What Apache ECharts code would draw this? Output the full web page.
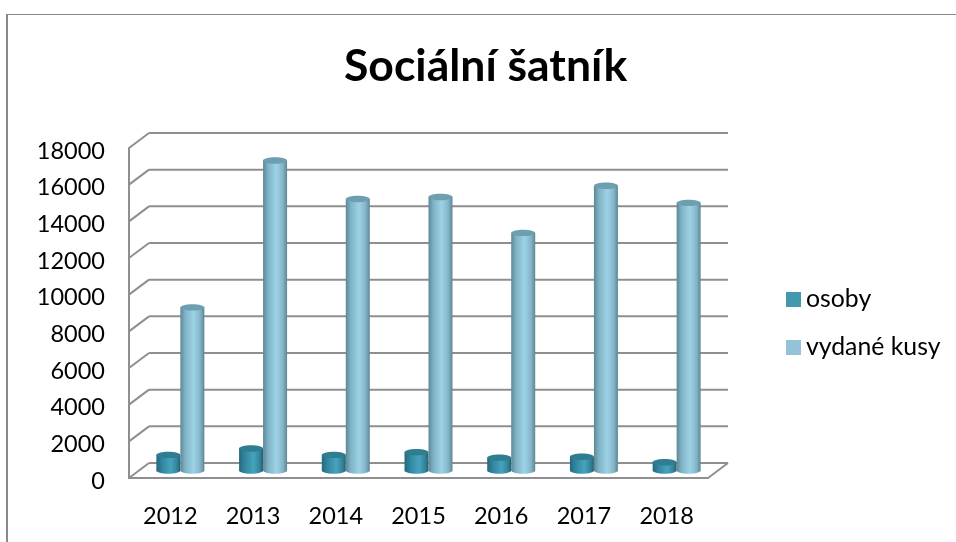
<!DOCTYPE html>
<html><head><meta charset="utf-8">
<style>html,body{margin:0;padding:0;background:#fff}#c{width:956px;height:542px}</style>
<script src="https://cdn.jsdelivr.net/npm/echarts@6/dist/echarts.min.js"></script>
</head><body><div id="c"></div>
<script>
const titleText = 'Sociální šatník';
const categories = ['2012','2013','2014','2015','2016','2017','2018'];
const osoby = [850,1200,850,1000,700,750,450];
const vydaneKusy = [8900,16910,14810,14920,12960,15530,14600];
const yTicks = [0,2000,4000,6000,8000,10000,12000,14000,16000,18000];
const seriesNames = ['osoby','vydané kusy'];

const FONT = 'Lato';
const DX = 20, DY = -15, BW = 24, RY = 3.2;
const WALL = '#8f8f8f';

function grad(stops){
  return {type:'linear',x:0,y:0,x2:1,y2:0,colorStops:stops.map(s=>({offset:s[0],color:s[1]}))};
}
const style1 = {
  body: grad([[0,'#24697c'],[0.25,'#3387a0'],[0.6,'#46a3bd'],[0.85,'#33859c'],[1,'#24606f']]),
  top:'#2f7d91'
};
const style2 = {
  body: grad([[0,'#5d8796'],[0.2,'#7fb2c5'],[0.55,'#9dd2e6'],[0.82,'#84b6c9'],[1,'#5f8694']]),
  top:'#6d9fb0'
};
function cylinder(off, st){
  return function(params, api){
    const p = api.coord([api.value(0), api.value(1)]);
    const b = api.coord([api.value(0), 0]);
    const cx = p[0] + DX/2 + off;
    const yt = p[1] + DY/2, yb = b[1] + DY/2;
    const rx = BW/2;
    return {type:'group',children:[
      {type:'ellipse',shape:{cx:cx,cy:yb,rx:rx,ry:RY},style:{fill:st.body}},
      {type:'rect',shape:{x:cx-rx,y:yt,width:BW,height:yb-yt},style:{fill:st.body}},
      {type:'ellipse',shape:{cx:cx,cy:yt,rx:rx,ry:RY},style:{fill:st.top}}
    ]};
  };
}
function wallLines(params, api){
  const cs = params.coordSys;
  const y = api.coord([0, api.value(1)])[1];
  const x0 = cs.x, x1 = cs.x + cs.width;
  const ls = {stroke:WALL,lineWidth:2};
  const kids = [
    {type:'line',shape:{x1:x0,y1:y,x2:x0+DX,y2:y+DY},style:ls},
    {type:'line',shape:{x1:x0+DX,y1:y+DY,x2:x1+DX,y2:y+DY},style:ls}
  ];
  if (api.value(1) === 0) kids.push({type:'line',shape:{x1:x1,y1:y,x2:x1+DX,y2:y+DY},style:ls});
  return {type:'group',children:kids};
}
const chart = echarts.init(document.getElementById('c'),null,{renderer:'canvas'});
chart.setOption({
  animation:false,
  backgroundColor:'#fff',
  title:{text:titleText,left:344,top:44,padding:0,textStyle:{fontFamily:FONT,fontSize:44.5,fontWeight:'bold',color:'#000'}},
  legend:{
    orient:'vertical',left:786,top:287,padding:0,itemWidth:15,itemHeight:15,itemGap:23,
    icon:'rect',
    textStyle:{fontFamily:FONT,fontSize:24.8,color:'#000'},
    data:[{name:seriesNames[0],itemStyle:{color:'#4198af'}},{name:seriesNames[1],itemStyle:{color:'#93c3d6'}}]
  },
  grid:{left:129,top:148,width:579,height:330},
  xAxis:{type:'category',data:categories,
    axisLine:{lineStyle:{color:WALL,width:2}},axisTick:{show:false},
    axisLabel:{fontFamily:FONT,fontSize:23.5,color:'#000',margin:26},splitLine:{show:false}},
  yAxis:{type:'value',min:0,max:18000,interval:2000,
    axisLine:{show:true,lineStyle:{color:WALL,width:2}},axisTick:{show:false},
    axisLabel:{fontFamily:FONT,fontSize:23.5,color:'#000',margin:24,verticalAlign:'top',lineHeight:6,formatter:v=>String(v)},splitLine:{show:false}},
  graphic:[
    {type:'line',shape:{x1:7,y1:14,x2:7,y2:542},style:{stroke:'#8a8a8a',lineWidth:2},silent:true},
    {type:'line',shape:{x1:6,y1:14.5,x2:956,y2:14.5},style:{stroke:'#8a8a8a',lineWidth:1},silent:true}
  ],
  series:[
    {type:'custom',name:'walls',silent:true,z:1,renderItem:wallLines,data:yTicks.map(v=>[0,v]),encode:{x:0,y:1}},
    {type:'custom',name:seriesNames[0],z:2,renderItem:cylinder(-BW/2,style1),data:osoby.map((v,i)=>[i,v]),encode:{x:0,y:1}},
    {type:'custom',name:seriesNames[1],z:3,renderItem:cylinder(BW/2,style2),data:vydaneKusy.map((v,i)=>[i,v]),encode:{x:0,y:1}}
  ]
});
</script></body></html>
